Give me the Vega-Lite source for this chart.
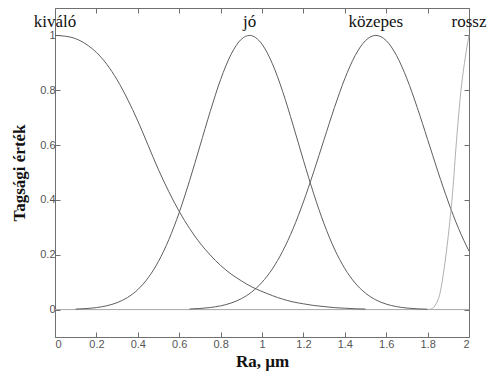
{
  "$schema": "https://vega.github.io/schema/vega-lite/v6.json",
  "width": 414,
  "height": 329,
  "autosize": "none",
  "padding": {"left": 55, "top": 8, "right": 19, "bottom": 36},
  "background": "white",
  "config": {
    "view": {"stroke": "#707070", "strokeWidth": 1},
    "axis": {
      "domain": false,
      "grid": false,
      "tickColor": "#707070",
      "tickWidth": 1,
      "tickSize": -5,
      "labelFont": "Liberation Sans",
      "labelFontSize": 11,
      "labelColor": "#555555",
      "labelPadding": 5,
      "titleFont": "Liberation Serif",
      "titleFontSize": 17,
      "titleFontWeight": "bold",
      "titleColor": "#111111"
    }
  },
  "datasets": {
    "curves": [
      {"set": "kiváló", "x": 0, "y": 1},
      {"set": "kiváló", "x": 0.05, "y": 0.997},
      {"set": "kiváló", "x": 0.1, "y": 0.988},
      {"set": "kiváló", "x": 0.15, "y": 0.968},
      {"set": "kiváló", "x": 0.2, "y": 0.938},
      {"set": "kiváló", "x": 0.25, "y": 0.895},
      {"set": "kiváló", "x": 0.3, "y": 0.838},
      {"set": "kiváló", "x": 0.35, "y": 0.768},
      {"set": "kiváló", "x": 0.4, "y": 0.688},
      {"set": "kiváló", "x": 0.45, "y": 0.599},
      {"set": "kiváló", "x": 0.5, "y": 0.51},
      {"set": "kiváló", "x": 0.55, "y": 0.43},
      {"set": "kiváló", "x": 0.6, "y": 0.358},
      {"set": "kiváló", "x": 0.65, "y": 0.296},
      {"set": "kiváló", "x": 0.7, "y": 0.243},
      {"set": "kiváló", "x": 0.75, "y": 0.199},
      {"set": "kiváló", "x": 0.8, "y": 0.161},
      {"set": "kiváló", "x": 0.85, "y": 0.13},
      {"set": "kiváló", "x": 0.9, "y": 0.105},
      {"set": "kiváló", "x": 0.95, "y": 0.083},
      {"set": "kiváló", "x": 1.0, "y": 0.066},
      {"set": "kiváló", "x": 1.05, "y": 0.051},
      {"set": "kiváló", "x": 1.1, "y": 0.038},
      {"set": "kiváló", "x": 1.15, "y": 0.028},
      {"set": "kiváló", "x": 1.2, "y": 0.021},
      {"set": "kiváló", "x": 1.25, "y": 0.015},
      {"set": "kiváló", "x": 1.3, "y": 0.011},
      {"set": "kiváló", "x": 1.35, "y": 0.007},
      {"set": "kiváló", "x": 1.4, "y": 0.005},
      {"set": "kiváló", "x": 1.45, "y": 0.003},
      {"set": "kiváló", "x": 1.5, "y": 0.002},
      {"set": "jó", "x": 0.1, "y": 0.0018},
      {"set": "jó", "x": 0.15, "y": 0.0037},
      {"set": "jó", "x": 0.2, "y": 0.0073},
      {"set": "jó", "x": 0.25, "y": 0.0139},
      {"set": "jó", "x": 0.3, "y": 0.0253},
      {"set": "jó", "x": 0.35, "y": 0.0439},
      {"set": "jó", "x": 0.4, "y": 0.0729},
      {"set": "jó", "x": 0.45, "y": 0.1159},
      {"set": "jó", "x": 0.5, "y": 0.1759},
      {"set": "jó", "x": 0.55, "y": 0.2553},
      {"set": "jó", "x": 0.6, "y": 0.354},
      {"set": "jó", "x": 0.65, "y": 0.47},
      {"set": "jó", "x": 0.7, "y": 0.596},
      {"set": "jó", "x": 0.75, "y": 0.723},
      {"set": "jó", "x": 0.8, "y": 0.839},
      {"set": "jó", "x": 0.85, "y": 0.93},
      {"set": "jó", "x": 0.9, "y": 0.986},
      {"set": "jó", "x": 0.94, "y": 1.0},
      {"set": "jó", "x": 1.0, "y": 0.968},
      {"set": "jó", "x": 1.05, "y": 0.897},
      {"set": "jó", "x": 1.1, "y": 0.795},
      {"set": "jó", "x": 1.15, "y": 0.673},
      {"set": "jó", "x": 1.2, "y": 0.545},
      {"set": "jó", "x": 1.25, "y": 0.422},
      {"set": "jó", "x": 1.3, "y": 0.3125},
      {"set": "jó", "x": 1.35, "y": 0.221},
      {"set": "jó", "x": 1.4, "y": 0.1497},
      {"set": "jó", "x": 1.45, "y": 0.0968},
      {"set": "jó", "x": 1.5, "y": 0.0599},
      {"set": "jó", "x": 1.55, "y": 0.0354},
      {"set": "jó", "x": 1.6, "y": 0.02},
      {"set": "jó", "x": 1.65, "y": 0.0108},
      {"set": "jó", "x": 1.7, "y": 0.0056},
      {"set": "jó", "x": 1.75, "y": 0.0028},
      {"set": "jó", "x": 1.8, "y": 0.0013},
      {"set": "közepes", "x": 0.65, "y": 0.0021},
      {"set": "közepes", "x": 0.7, "y": 0.004},
      {"set": "közepes", "x": 0.75, "y": 0.0076},
      {"set": "közepes", "x": 0.8, "y": 0.0136},
      {"set": "közepes", "x": 0.85, "y": 0.0237},
      {"set": "közepes", "x": 0.9, "y": 0.0397},
      {"set": "közepes", "x": 0.95, "y": 0.064},
      {"set": "közepes", "x": 1.0, "y": 0.0994},
      {"set": "közepes", "x": 1.05, "y": 0.1483},
      {"set": "közepes", "x": 1.1, "y": 0.2131},
      {"set": "közepes", "x": 1.15, "y": 0.2949},
      {"set": "közepes", "x": 1.2, "y": 0.3926},
      {"set": "közepes", "x": 1.25, "y": 0.5031},
      {"set": "közepes", "x": 1.3, "y": 0.6206},
      {"set": "közepes", "x": 1.35, "y": 0.7369},
      {"set": "közepes", "x": 1.4, "y": 0.8422},
      {"set": "közepes", "x": 1.45, "y": 0.9265},
      {"set": "közepes", "x": 1.5, "y": 0.9811},
      {"set": "közepes", "x": 1.55, "y": 1.0},
      {"set": "közepes", "x": 1.6, "y": 0.9811},
      {"set": "közepes", "x": 1.65, "y": 0.9265},
      {"set": "közepes", "x": 1.7, "y": 0.8422},
      {"set": "közepes", "x": 1.75, "y": 0.7369},
      {"set": "közepes", "x": 1.8, "y": 0.6206},
      {"set": "közepes", "x": 1.85, "y": 0.5031},
      {"set": "közepes", "x": 1.9, "y": 0.3926},
      {"set": "közepes", "x": 1.95, "y": 0.2949},
      {"set": "közepes", "x": 2.0, "y": 0.2131},
      {"set": "rossz", "x": 1.8, "y": 0},
      {"set": "rossz", "x": 1.82, "y": 0.003},
      {"set": "rossz", "x": 1.84, "y": 0.02},
      {"set": "rossz", "x": 1.86, "y": 0.06},
      {"set": "rossz", "x": 1.88, "y": 0.15},
      {"set": "rossz", "x": 1.9, "y": 0.27},
      {"set": "rossz", "x": 1.92, "y": 0.42},
      {"set": "rossz", "x": 1.94, "y": 0.62},
      {"set": "rossz", "x": 1.96, "y": 0.79},
      {"set": "rossz", "x": 1.98, "y": 0.91},
      {"set": "rossz", "x": 2.0, "y": 1.0}
    ],
    "labels": [
      {"name": "kiváló", "x": 0, "y": 1},
      {"name": "jó", "x": 0.94, "y": 1},
      {"name": "közepes", "x": 1.55, "y": 1},
      {"name": "rossz", "x": 2.0, "y": 1}
    ],
    "baseline": [
      {"level": 0}
    ]
  },
  "layer": [
    {
      "data": {"name": "baseline"},
      "mark": {"type": "rule", "color": "#a8a8a8", "strokeWidth": 1},
      "encoding": {
        "y": {"field": "level", "type": "quantitative", "scale": {"domain": [-0.1, 1.1], "nice": false, "zero": false}, "axis": null}
      }
    },
    {
      "data": {"name": "curves"},
      "mark": {"type": "line", "interpolate": "monotone", "strokeWidth": 1},
      "encoding": {
        "x": {
          "field": "x", "type": "quantitative",
          "scale": {"domain": [0, 2], "nice": false, "zero": false},
          "axis": {"orient": "bottom", "values": [0, 0.2, 0.4, 0.6, 0.8, 1, 1.2, 1.4, 1.6, 1.8, 2], "format": "~g", "title": "Ra, µm", "titlePadding": 4, "labelPadding": 6}
        },
        "y": {
          "field": "y", "type": "quantitative",
          "scale": {"domain": [-0.1, 1.1], "nice": false, "zero": false},
          "axis": {"orient": "left", "values": [0, 0.2, 0.4, 0.6, 0.8, 1], "format": "~g", "title": "Tagsági érték", "titlePadding": 11}
        },
        "color": {
          "field": "set", "type": "nominal",
          "scale": {"domain": ["kiváló", "jó", "közepes", "rossz"], "range": ["#5e5e5e", "#5e5e5e", "#5e5e5e", "#b0b0b0"]},
          "legend": null
        },
        "detail": {"field": "set"}
      }
    },
    {
      "data": {"name": "labels"},
      "mark": {"type": "text", "font": "Liberation Serif", "fontSize": 17, "color": "#111111", "baseline": "alphabetic", "align": "center", "dy": -8, "clip": false},
      "encoding": {
        "x": {
          "field": "x", "type": "quantitative",
          "axis": {"orient": "top", "values": [0, 0.2, 0.4, 0.6, 0.8, 1, 1.2, 1.4, 1.6, 1.8, 2], "labels": false, "title": null}
        },
        "y": {
          "field": "y", "type": "quantitative",
          "axis": {"orient": "right", "values": [0, 0.2, 0.4, 0.6, 0.8, 1], "labels": false, "title": null}
        },
        "text": {"field": "name"}
      }
    }
  ],
  "resolve": {"axis": {"x": "independent", "y": "independent"}}
}
